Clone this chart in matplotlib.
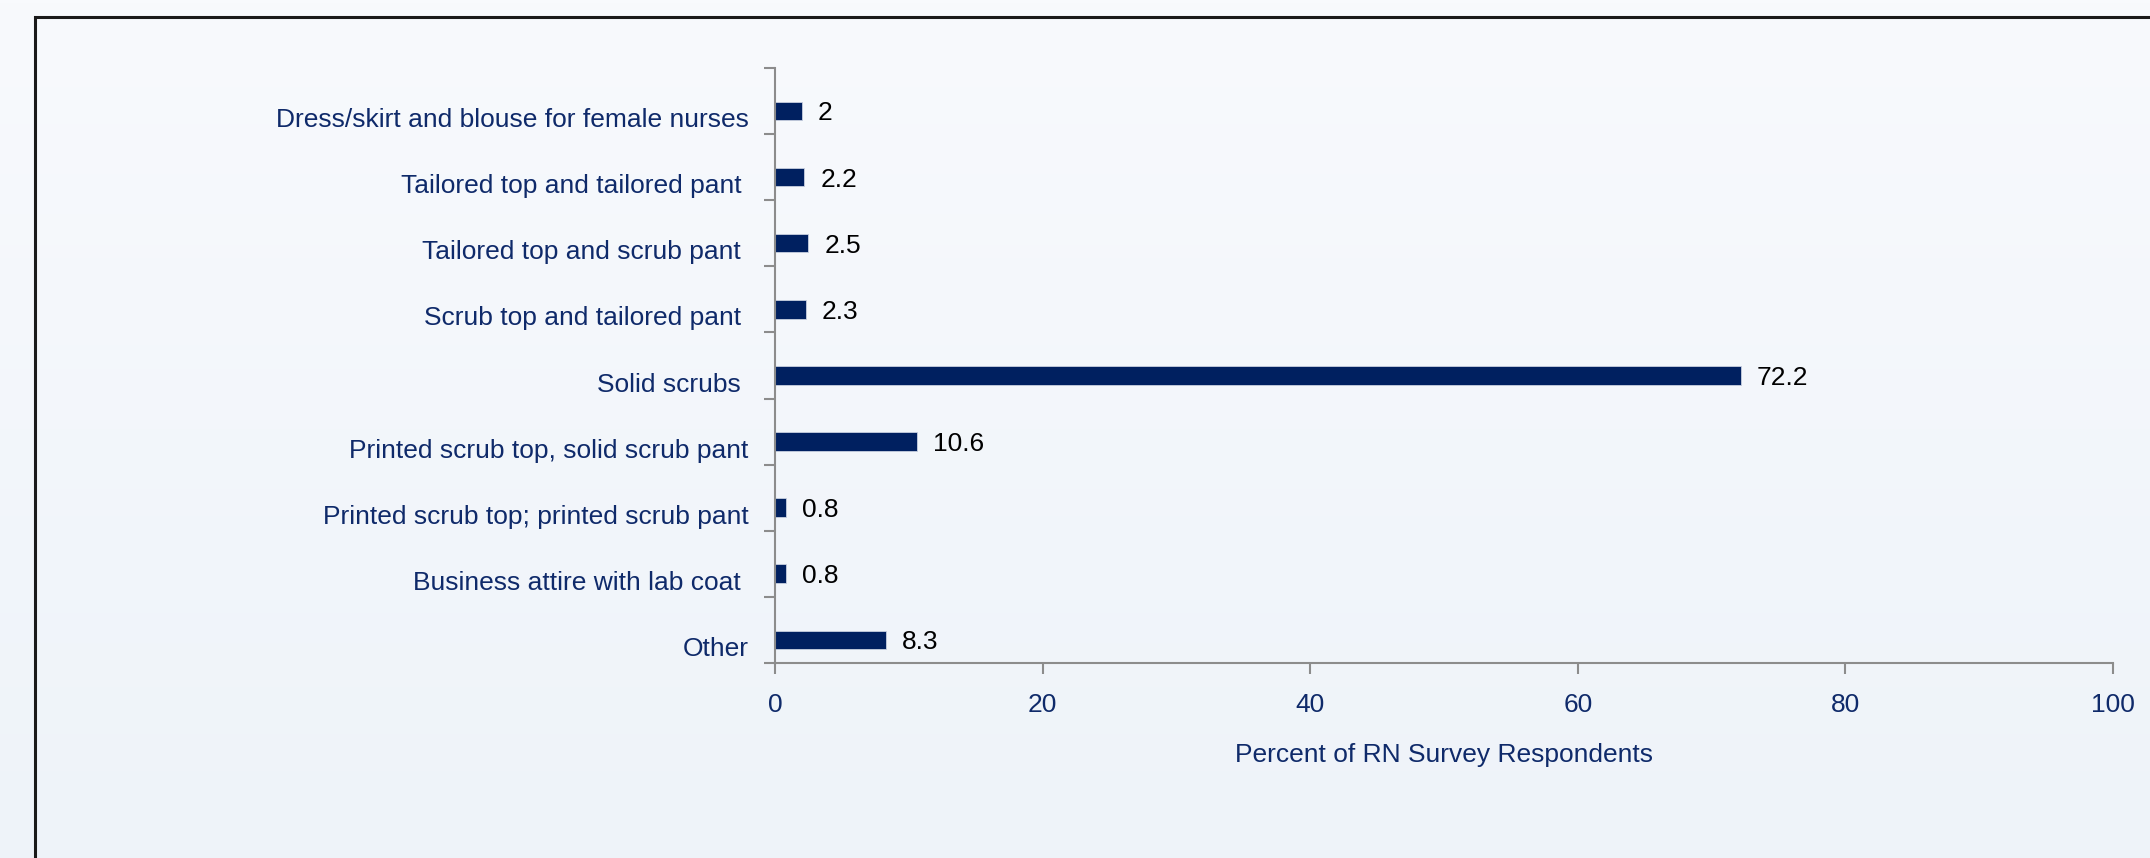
import numpy as np
import matplotlib
matplotlib.use("Agg")
import matplotlib.pyplot as plt
from matplotlib.patches import Rectangle

plt.rcParams['font.family'] = ['Liberation Sans', 'DejaVu Sans']

categories = [
    "Dress/skirt and blouse for female nurses",
    "Tailored top and tailored pant ",
    "Tailored top and scrub pant ",
    "Scrub top and tailored pant ",
    "Solid scrubs ",
    "Printed scrub top, solid scrub pant",
    "Printed scrub top; printed scrub pant",
    "Business attire with lab coat ",
    "Other",
]
values = [2, 2.2, 2.5, 2.3, 72.2, 10.6, 0.8, 0.8, 8.3]
xticks = [0, 20, 40, 60, 80, 100]

navy = '#0f2a6a'
bar_color = '#002060'
spine_color = '#8c8c8c'
fs = 19

fig = plt.figure(figsize=(21.5, 8.58), dpi=100)

# gradient background
bg = fig.add_axes([0, 0, 1, 1], zorder=-10)
grad = np.linspace(0, 1, 256).reshape(-1, 1)
top = np.array([248, 250, 253]) / 255
bot = np.array([238, 243, 249]) / 255
img = top + grad[..., None] * (bot - top)
bg.imshow(img, aspect='auto', extent=[0, 1, 0, 1])
bg.axis('off')

# chart border (runs off right and bottom)
fig.patches.append(Rectangle((35 / 2150, -0.05), 1.2, 1 - 17 / 858 + 0.05,
                             transform=fig.transFigure, fill=False,
                             edgecolor='#1a1a1a', linewidth=2.2, zorder=5))

ax = fig.add_axes([775 / 2150, 1 - 663 / 858, (2113 - 775) / 2150, (663 - 68) / 858])
ax.patch.set_alpha(0)

n = len(categories)
ypos = np.arange(n)
# bars and labels sit a little below the category centre, as in the original
bar_y = ypos + 0.15
ax.barh(bar_y, values, height=0.28, color=bar_color, edgecolor='#c8d0e0', linewidth=0.6)
for y, v in zip(bar_y, values):
    ax.text(v + 1.2, y, f"{v:g}", va='center_baseline', ha='left', fontsize=fs, color='black')

ax.set_xlim(0, 100)
ax.set_ylim(n - 0.5, -0.5)
ax.set_xticks(xticks)
ax.set_xticklabels([str(t) for t in xticks])

ax.set_yticks(np.arange(n + 1) - 0.5)
ax.set_yticklabels([])
ax.set_yticks(ypos + 0.25, minor=True)
ax.set_yticklabels(categories, minor=True)
ax.tick_params(axis='y', which='minor', length=0, pad=19, labelsize=fs, labelcolor=navy)
ax.tick_params(axis='y', which='major', length=8, width=1.5, color=spine_color)
ax.tick_params(axis='x', length=8, width=1.5, color=spine_color, labelsize=fs,
               labelcolor=navy, pad=13.5)

for s in ['top', 'right']:
    ax.spines[s].set_visible(False)
for s in ['left', 'bottom']:
    ax.spines[s].set_color(spine_color)
    ax.spines[s].set_linewidth(1.5)

ax.set_xlabel("Percent of RN Survey Respondents", fontsize=fs, color=navy, labelpad=18.5)

fig.savefig("out.png", dpi=100)
